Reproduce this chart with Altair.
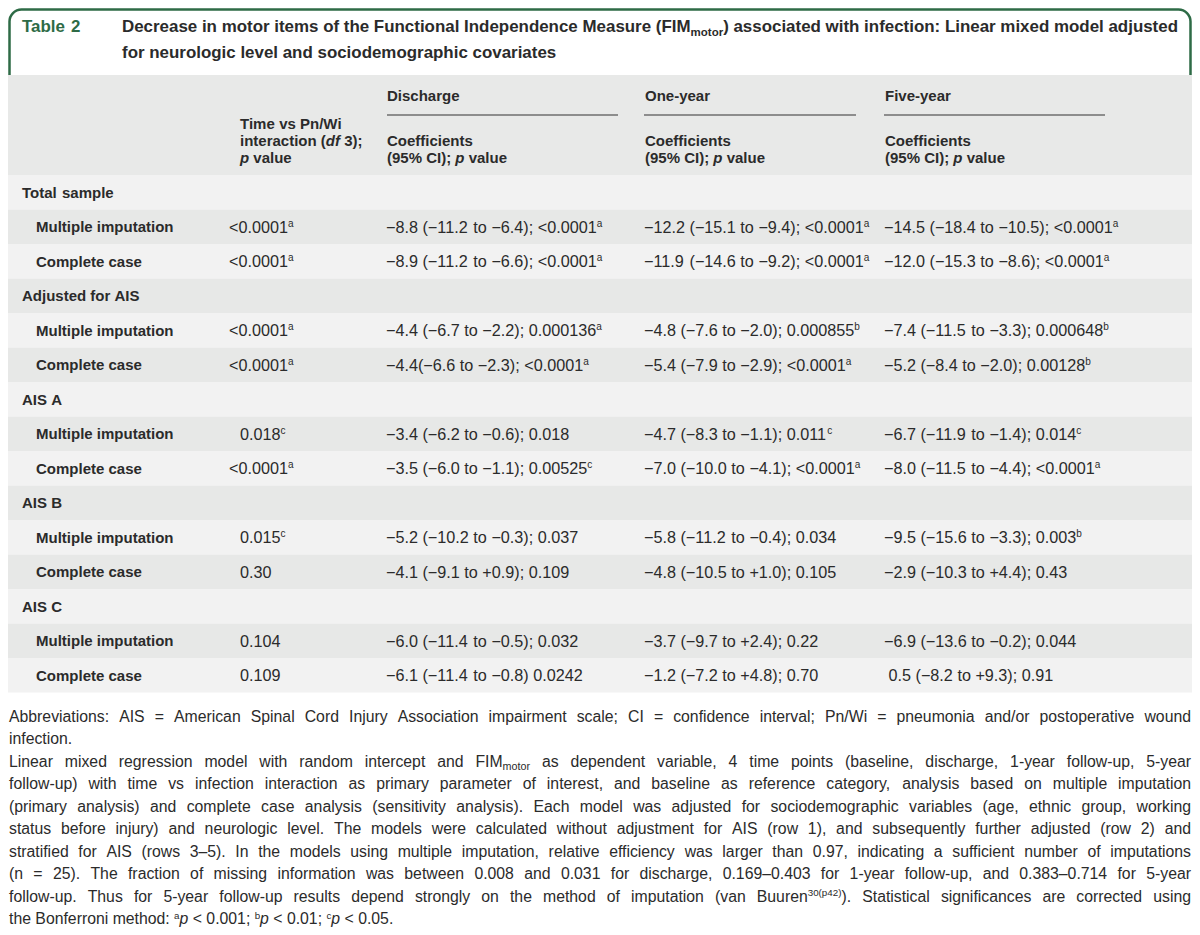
import re
import altair as alt
import pandas as pd

# ---------------- content ----------------
TABLE_NO = "Table 2"
TITLE_LINES = [
    [("Decrease in motor items of the Functional Independence Measure (FIM", ""), ("motor", "s"),
     (") associated with infection: Linear mixed model adjusted", "")],
    [("for neurologic level and sociodemographic covariates", "")],
]
TIME_HEADER = [
    [("Time vs Pn/Wi", "")],
    [("interaction (", ""), ("df", "i"), (" 3);", "")],
    [("p", "i"), (" value", "")],
]
PERIODS = ["Discharge", "One-year", "Five-year"]
COEF_HEADER = [
    [("Coefficients", "")],
    [("(95% CI); ", ""), ("p", "i"), (" value", "")],
]
GROUPS = ["Total sample", "Adjusted for AIS", "AIS A", "AIS B", "AIS C"]
METHODS = ["Multiple imputation", "Complete case"]

INTERACTION_P = ["<0.0001^a", "<0.0001^a", "<0.0001^a", "<0.0001^a", "0.018^c",
                 "<0.0001^a", "0.015^c", "0.30", "0.104", "0.109"]
DISCHARGE = ["−8.8 (−11.2 to −6.4); <0.0001^a", "−8.9 (−11.2 to −6.6); <0.0001^a",
             "−4.4 (−6.7 to −2.2); 0.000136^a", "−4.4(−6.6 to −2.3); <0.0001^a",
             "−3.4 (−6.2 to −0.6); 0.018", "−3.5 (−6.0 to −1.1); 0.00525^c",
             "−5.2 (−10.2 to −0.3); 0.037", "−4.1 (−9.1 to +0.9); 0.109",
             "−6.0 (−11.4 to −0.5); 0.032", "−6.1 (−11.4 to −0.8) 0.0242"]
ONE_YEAR = ["−12.2 (−15.1 to −9.4); <0.0001^a", "−11.9 (−14.6 to −9.2); <0.0001^a",
            "−4.8 (−7.6 to −2.0); 0.000855^b", "−5.4 (−7.9 to −2.9); <0.0001^a",
            "−4.7 (−8.3 to −1.1); 0.011^c", "−7.0 (−10.0 to −4.1); <0.0001^a",
            "−5.8 (−11.2 to −0.4); 0.034", "−4.8 (−10.5 to +1.0); 0.105",
            "−3.7 (−9.7 to +2.4); 0.22", "−1.2 (−7.2 to +4.8); 0.70"]
FIVE_YEAR = ["−14.5 (−18.4 to −10.5); <0.0001^a", "−12.0 (−15.3 to −8.6); <0.0001^a",
             "−7.4 (−11.5 to −3.3); 0.000648^b", "−5.2 (−8.4 to −2.0); 0.00128^b",
             "−6.7 (−11.9 to −1.4); 0.014^c", "−8.0 (−11.5 to −4.4); <0.0001^a",
             "−9.5 (−15.6 to −3.3); 0.003^b", "−2.9 (−10.3 to +4.4); 0.43",
             "−6.9 (−13.6 to −0.2); 0.044", " 0.5 (−8.2 to +9.3); 0.91"]

FOOTNOTES = [
    ([("Abbreviations: AIS = American Spinal Cord Injury Association impairment scale; CI = confidence interval; Pn/Wi = pneumonia and/or postoperative wound", "")], True),
    ([("infection.", "")], False),
    ([("Linear mixed regression model with random intercept and FIM", ""), ("motor", "s"),
      (" as dependent variable, 4 time points (baseline, discharge, 1-year follow-up, 5-year", "")], True),
    ([("follow-up) with time vs infection interaction as primary parameter of interest, and baseline as reference category, analysis based on multiple imputation", "")], True),
    ([("(primary analysis) and complete case analysis (sensitivity analysis). Each model was adjusted for sociodemographic variables (age, ethnic group, working", "")], True),
    ([("status before injury) and neurologic level. The models were calculated without adjustment for AIS (row 1), and subsequently further adjusted (row 2) and", "")], True),
    ([("stratified for AIS (rows 3–5). In the models using multiple imputation, relative efficiency was larger than 0.97, indicating a sufficient number of imputations", "")], True),
    ([("(n = 25). The fraction of missing information was between 0.008 and 0.031 for discharge, 0.169–0.403 for 1-year follow-up, and 0.383–0.714 for 5-year", "")], True),
    ([("follow-up. Thus for 5-year follow-up results depend strongly on the method of imputation (van Buuren", ""), ("30(p42)", "S"),
      ("). Statistical significances are corrected using", "")], True),
    ([("the Bonferroni method: ", ""), ("a", "S"), ("p", "i"), (" < 0.001; ", ""), ("b", "S"), ("p", "i"),
      (" < 0.01; ", ""), ("c", "S"), ("p", "i"), (" < 0.05.", "")], False),
]

# ---------------- layout / style ----------------
FONT = "Liberation Sans"
TEXT = "#2b2b2b"
GREEN = "#2e6b46"
HEAD_BG = "#e8e9e8"
ROW_LIGHT = "#f2f2f2"
ROW_DARK = "#e7e8e7"
W, H = 1184, 919          # plot area; page margin is 8px, so reference px == screen px
LEFT, TOP = 8, 8
RIGHT, BOTTOM = LEFT + W, TOP + H

X_GROUP, X_METHOD, X_P = 22, 36, 240
X_COLS = [386, 644, 884]
RULES = [(387, 618), (644, 856), (884, 1105)]
Y_HEAD_TOP, Y_BODY_TOP, ROW_H = 75, 175, 34.5
BODY, LABEL, HEAD = 16.2, 15.0, 15.0
FOOT_X0, FOOT_X1 = 9, 1191
FOOT_Y0, FOOT_DY = 716, 22.5

_U = "ABCDEFGHIJKLMNOPQRSTUVWXYZ"
_L = "abcdefghijklmnopqrstuvwxyz"
REG = dict(zip(_U, [667, 667, 722, 722, 667, 611, 778, 722, 278, 500, 667, 556, 833, 722, 778, 667, 778, 722, 667, 611, 722, 667, 944, 667, 667, 611]))
REG.update(zip(_L, [556, 556, 500, 556, 556, 278, 556, 556, 222, 222, 500, 222, 833, 556, 556, 556, 556, 333, 500, 278, 556, 500, 722, 500, 500, 500]))
BOLD = dict(zip(_U, [722, 722, 722, 722, 667, 611, 778, 722, 278, 556, 722, 611, 833, 722, 778, 667, 778, 722, 667, 611, 722, 667, 944, 667, 667, 611]))
BOLD.update(zip(_L, [556, 611, 556, 611, 556, 333, 611, 611, 278, 278, 556, 278, 889, 611, 611, 611, 611, 389, 556, 333, 611, 556, 778, 556, 556, 500]))
PUN = {" ": 278, "(": 333, ")": 333, ",": 278, "-": 333, ".": 278, "/": 278, ":": 278, ";": 278,
       "<": 584, "=": 584, "%": 889, "+": 584, "\u2013": 556, "\u2212": 584}
for d in (REG, BOLD):
    d.update(PUN)
    d.update({c: 556 for c in "0123456789"})
BOLD.update({":": 333, ";": 333})


def tw(t, st, size):
    tab = BOLD if "b" in st else REG
    fs = size * (0.62 if "S" in st else 0.68 if "s" in st else 1.0)
    return sum(tab.get(c, 556) for c in t) * fs / 1000.0


def seg_tokens(segments, base):
    toks = []
    for text, st in segments:
        for p in re.split(r"( )", text):
            if p:
                toks.append((p, base + st))
    return toks


def word_em(segments, base=""):
    toks = seg_tokens(segments, base)
    return sum(tw(t, st, 1.0) for t, st in toks if t != " "), sum(1 for t, _ in toks if t == " ")


def rich(segments, x0, y, size, base="", color=TEXT, justify=None):
    toks = seg_tokens(segments, base)
    widths = [tw(t, st, size) for t, st in toks]
    nat = sum(widths)
    nsp = sum(1 for t, _ in toks if t == " ")
    extra = (justify - nat) / nsp if (justify and nsp) else 0.0
    x, out = x0, []
    for (t, st), w in zip(toks, widths):
        if t == " ":
            x += w + extra
            continue
        fs, dy = size, 0.0
        if "S" in st:
            fs, dy = size * 0.62, -0.36 * size
        elif "s" in st:
            fs, dy = size * 0.68, 0.22 * size
        key = (("b" if "b" in st else "") + ("i" if "i" in st else "")) or "n"
        out.append(dict(x=x, y=y + dy, text=t, size=fs, color=color, key=key))
        x += w
    return out


def cell(value):
    main, _, sup = value.partition("^")
    segs = [(main, "")]
    if sup:
        segs.append((sup, "S"))
    return segs


def base_y(center, size):
    return center + 0.36 * size


texts = []
# title
t_em, t_sp = word_em(TITLE_LINES[0], "b")
title_size = 1056 / (t_em + t_sp * 0.278)
texts += rich([(TABLE_NO, "")], X_GROUP, base_y(26, title_size), title_size, "b", GREEN)
for i, line in enumerate(TITLE_LINES):
    texts += rich(line, 122, base_y(26 + 26 * i, title_size), title_size, "b")

# header
for i, line in enumerate(TIME_HEADER):
    texts += rich(line, X_P, base_y(124 + 17 * i, HEAD), HEAD, "b")
for k, name in enumerate(PERIODS):
    texts += rich([(name, "")], X_COLS[k] + 1, base_y(96, HEAD), HEAD, "b")
    for i, line in enumerate(COEF_HEADER):
        texts += rich(line, X_COLS[k] + 1, base_y(141 + 17 * i, HEAD), HEAD, "b")

# body
bands = [dict(x=LEFT, x2=RIGHT, y=Y_HEAD_TOP, y2=Y_BODY_TOP, color=HEAD_BG)]
r = 0
for g, group in enumerate(GROUPS):
    rows = [(group, None)] + [(m, 2 * g + j) for j, m in enumerate(METHODS)]
    for label, idx in rows:
        top = Y_BODY_TOP + r * ROW_H
        c = top + ROW_H / 2
        bands.append(dict(x=LEFT, x2=RIGHT, y=top, y2=top + ROW_H, color=ROW_LIGHT if r % 2 == 0 else ROW_DARK))
        if idx is None:
            texts += rich([(label, "")], X_GROUP, base_y(c, LABEL), LABEL, "b")
        else:
            texts += rich([(label, "")], X_METHOD, base_y(c, LABEL), LABEL, "b")
            pv = INTERACTION_P[idx]
            xp = X_P - (tw("<", "", BODY) + 1.5 if pv.startswith("<") else 0)
            texts += rich(cell(pv), xp, base_y(c, BODY), BODY)
            for k, col in enumerate([DISCHARGE, ONE_YEAR, FIVE_YEAR]):
                texts += rich(cell(col[idx]), X_COLS[k], base_y(c, BODY), BODY)
        r += 1

# footnotes (justified)
foot_w = FOOT_X1 - FOOT_X0
fits = []
for segs, just in FOOTNOTES:
    if just:
        em, nsp = word_em(segs)
        fits.append(foot_w / (em + nsp * 0.17))
foot_size = min(15.8, min(fits))
for i, (segs, just) in enumerate(FOOTNOTES):
    texts += rich(segs, FOOT_X0, base_y(FOOT_Y0 + FOOT_DY * i, foot_size), foot_size, "", TEXT,
                  foot_w if just else None)

tdf = pd.DataFrame(texts)
bands_df = pd.DataFrame(bands)
rules_df = pd.DataFrame([dict(x=a, x2=b, y=115) for a, b in RULES])
border_df = pd.DataFrame([dict(x=LEFT + 1.5, x2=RIGHT - 1.5, y=TOP + 1.5, y2=110)])

XS = alt.Scale(domain=[LEFT, RIGHT], nice=False, zero=False)
YS = alt.Scale(domain=[BOTTOM, TOP], nice=False, zero=False)
X = alt.X("x:Q", scale=XS, axis=None)
Y = alt.Y("y:Q", scale=YS, axis=None)

border = alt.Chart(border_df).mark_rect(cornerRadius=12, stroke=GREEN, strokeWidth=2.5, fill="white").encode(
    x=X, x2="x2:Q", y=Y, y2="y2:Q")
band_layer = alt.Chart(bands_df).mark_rect().encode(
    x=X, x2="x2:Q", y=Y, y2="y2:Q", color=alt.Color("color:N", scale=None))
rule_layer = alt.Chart(rules_df).mark_rule(color="#333333", strokeWidth=1.2).encode(x=X, x2="x2:Q", y=Y)

STYLES = {"n": ("normal", "normal"), "b": ("bold", "normal"), "i": ("normal", "italic"), "bi": ("bold", "italic")}
text_layers = []
for key, (weight, style) in STYLES.items():
    sub = tdf[tdf["key"] == key]
    if len(sub) == 0:
        continue
    text_layers.append(
        alt.Chart(sub).mark_text(align="left", baseline="alphabetic", font=FONT, fontWeight=weight, fontStyle=style).encode(
            x=X, y=Y, text="text:N",
            size=alt.Size("size:Q", scale=None),
            color=alt.Color("color:N", scale=None)))

chart = alt.layer(border, band_layer, rule_layer, *text_layers).properties(
    width=W, height=H, padding=0, background="white",
    autosize=alt.AutoSizeParams(type="none"),
).configure_view(stroke=None)

chart.save("out.html", embed_options={"renderer": "svg", "actions": False})
